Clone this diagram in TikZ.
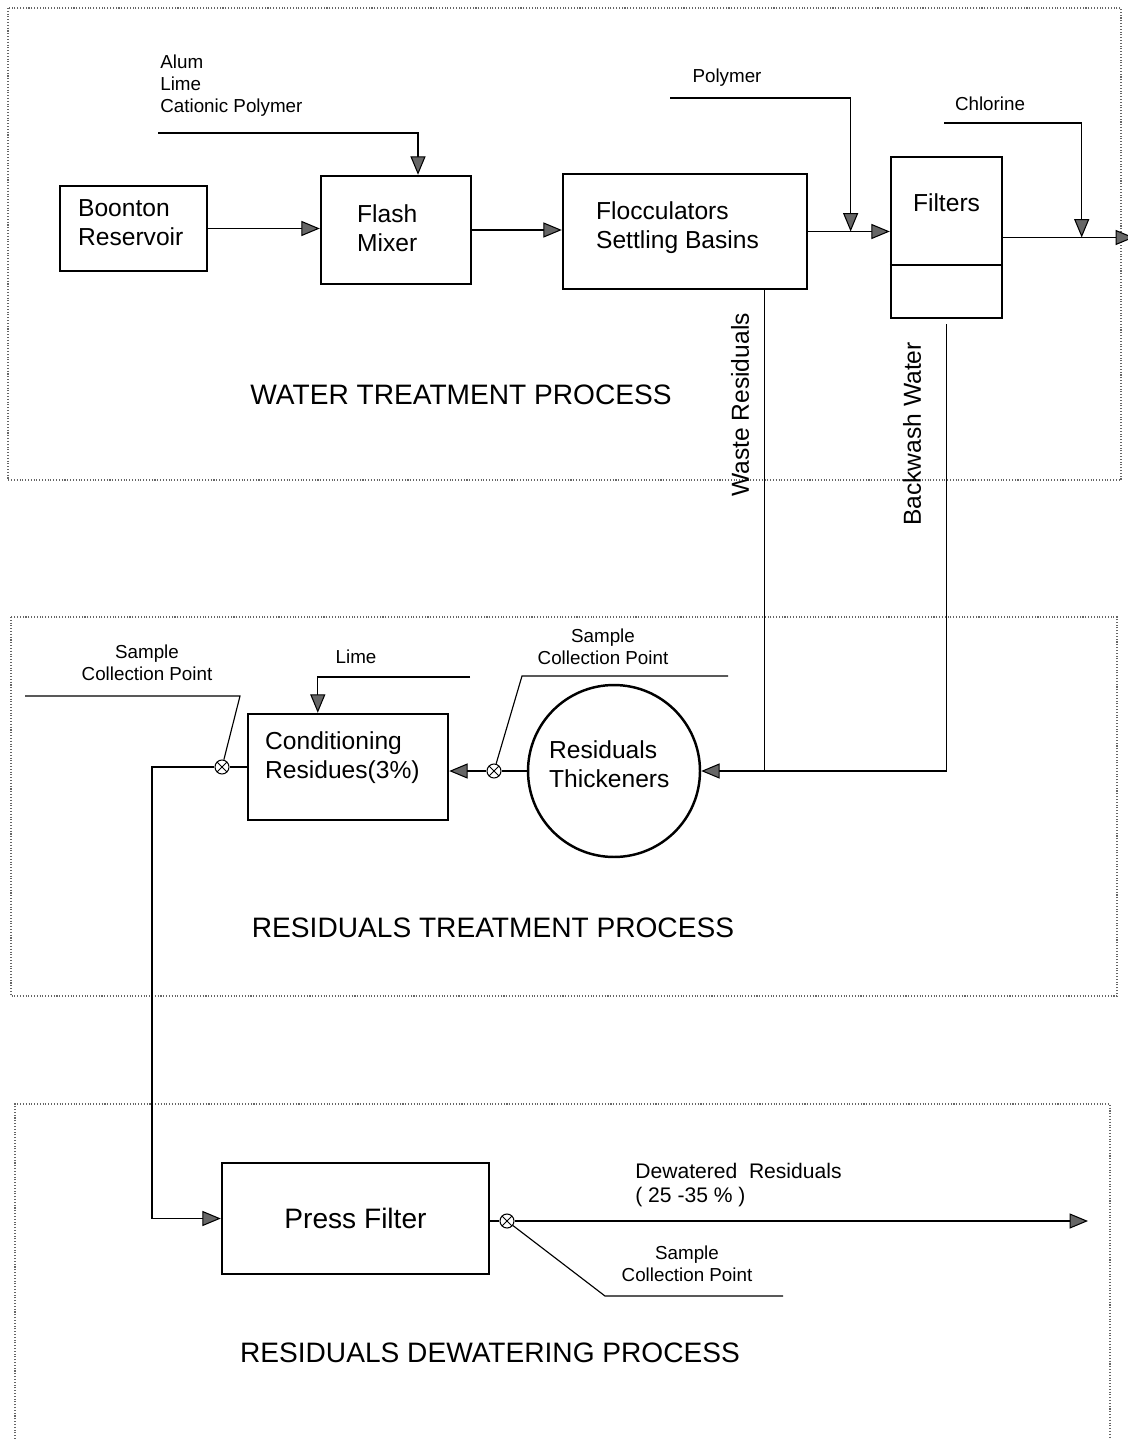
\documentclass[tikz,border=0pt]{standalone}
\usepackage{fontspec}
\setmainfont{Liberation Sans}
\usetikzlibrary{arrows.meta,calc}

\newcommand\bxfont{\fontsize{14}{16.5}\selectfont}
\newcommand\smfont{\fontsize{10.7}{12.6}\selectfont}
\newcommand\mdfont{\fontsize{12}{13.6}\selectfont}
\newcommand\ttlfont{\fontsize{16}{19}\selectfont}

\begin{document}
\begin{tikzpicture}[x=0.02cm,y=-0.02cm,
  box/.style={draw, line width=1.4pt, rectangle, inner sep=0pt},
  tank/.style={draw, line width=1.4pt, circle, inner sep=0pt, minimum size=34.4mm},
  boxtext/.style={inner sep=0pt, align=left, anchor=west, font=\bxfont},
  line/.style={draw, line width=0.65pt},
  flow/.style={line, -{Triangle[length=10.5pt,width=8.6pt,fill=black!60,line width=0.6pt]}},
  samplept/.style={circle, draw, line width=0.6pt, minimum size=2.8mm, inner sep=0pt, fill=white,
    path picture={\draw[line width=0.5pt]
      (path picture bounding box.north west) -- (path picture bounding box.south east)
      (path picture bounding box.north east) -- (path picture bounding box.south west);}},
  lbl/.style={inner sep=0pt, font=\smfont, align=center},
  title/.style={inner sep=0pt, font=\ttlfont},
  frame/.style={densely dotted, line width=0.6pt, black!60}
]
\useasboundingbox (0,0) rectangle (1128,1439);

% section frames
\draw[frame] (8,8) rectangle (1121,480);
\draw[frame] (11,617) rectangle (1117,996);
\draw[frame] (15,1439) -- (15,1104) -- (1110,1104) -- (1110,1439);

% ---------------- water treatment ----------------
\node[box, minimum width=29.4mm, minimum height=17mm] (boonton) at (133.5,228.5) {};
\node[boxtext] (boontonTxt) at ($(boonton.west)+(19,-6)$) {Boonton\\Reservoir};
\node[box, minimum width=30mm, minimum height=21.6mm] (flash) at (396,230) {};
\node[boxtext] (flashTxt) at ($(flash.west)+(37,-2)$) {Flash\\Mixer};
\node[box, minimum width=48.8mm, minimum height=23mm] (floc) at (685,231.5) {};
\node[boxtext] (flocTxt) at ($(floc.west)+(34,-4)$) {Flocculators\\Settling Basins};
\node[box, minimum width=22.2mm, minimum height=32.2mm] (filters) at (946.5,237.5) {};
\node[inner sep=0pt, font=\bxfont] (filtlbl) at ($(filters.north)+(0,47)$) {Filters};
\draw[line width=1.2pt] ($(filters.north west)!0.67!(filters.south west)$) -- ($(filters.north east)!0.67!(filters.south east)$);

\node[lbl, align=left, anchor=west] (chemlbl) at (160,86) {Alum\\Lime\\Cationic Polymer};
\node[lbl] (polylbl) at (727,78) {Polymer};
\node[lbl] (chllbl) at (990,104) {Chlorine};

\node[title] (wtp) at (461,395) {WATER TREATMENT PROCESS};
\node[inner sep=0pt, font=\bxfont, rotate=90] (wastelbl) at (740,405) {Waste Residuals};
\node[inner sep=0pt, font=\bxfont, rotate=90] (backlbl) at (912,434) {Backwash Water};

\draw[flow] (boonton.east) -- (boonton.east -| flash.west);
\draw[flow] (flash.east) -- (flash.east -| floc.west);
\draw[flow] (floc.east) -- (floc.east -| filters.west);
\coordinate (outp) at (1134,237.5);
\draw[flow] (filters.east) -- (outp);

\coordinate (chem) at (158,133);
\draw[flow] (chem) -| ($(flash.north)+(22,0)$);

\coordinate (poly) at (670,98);
\coordinate (polyj) at ($(floc.east)!0.52!(floc.east -| filters.west)$);
\draw[flow] (poly) -| (polyj);

\coordinate (chl) at (944,123);
\coordinate (chlj) at ($(filters.east)!0.6!(outp)$);
\draw[flow] (chl) -| (chlj);

% ---------------- residuals treatment ----------------
\node[tank] (thick) at (614,771) {};
\node[boxtext] (thickTxt) at ($(thick.west)+(22,-7)$) {Residuals\\Thickeners};
\node[box, minimum width=40mm, minimum height=21.2mm] (cond) at (348,767) {};
\node[boxtext] (condTxt) at ($(cond.west)+(18,-9.5)$) {Conditioning\\Residues(3\%)};
\node[samplept] (s2) at (494,771) {};
\node[samplept] (s1) at (222,767) {};

\node[lbl] (limelbl) at (356,657) {Lime};
\node[lbl] (s1lbl) at (147,663) {Sample\\Collection Point};
\node[lbl] (s2lbl) at (603,647) {Sample\\Collection Point};
\node[title] (rtp) at (493,928) {RESIDUALS TREATMENT PROCESS};

\coordinate (wtop) at ($(floc.south east)+(-44,0)$);
\draw[line] (wtop) -- (wtop |- thick.east);
\draw[flow] ($(filters.south)+(0,5)$) |- (thick.east);

\draw[line] (thick.west) -- (s2);
\draw[flow] (s2) -- (s2 -| cond.east);
\coordinate (s2k) at (522,676);
\coordinate (s2e) at (728,676);
\draw[line] (s2e) -- (s2k) -- (s2);

\coordinate (limec) at (470,677);
\draw[flow] (limec) -| ($(cond.north west)+(71,0)$);

\draw[line] (cond.west) -- (s1);
\coordinate (s1k) at (240,696);
\coordinate (s1e) at (25,696);
\draw[line] (s1e) -- (s1k) -- (s1);

% ---------------- residuals dewatering ----------------
\node[box, minimum width=53.4mm, minimum height=22.2mm, font=\ttlfont] (press) at (355.5,1218.5) {Press Filter};
\node[samplept] (s3) at (507,1221) {};
\node[inner sep=0pt, font=\mdfont, align=left, anchor=west] (dewlbl) at (635,1185) {Dewatered\ \ Residuals\\( 25 -35 \% )};
\node[lbl] (s3lbl) at (687,1264) {Sample\\Collection Point};
\node[title] (rdp) at (490,1353) {RESIDUALS DEWATERING PROCESS};

\coordinate (drop) at (152,767);
\draw[flow] (s1) -- (drop) |- (press.west);

\draw[line] (press.east |- s3) -- (s3);
\coordinate (dew) at (1088,1221);
\draw[flow] (s3) -- (dew);
\coordinate (s3k) at (605,1296);
\coordinate (s3e) at (783,1296);
\draw[line] (s3) -- (s3k) -- (s3e);
\end{tikzpicture}
\end{document}
